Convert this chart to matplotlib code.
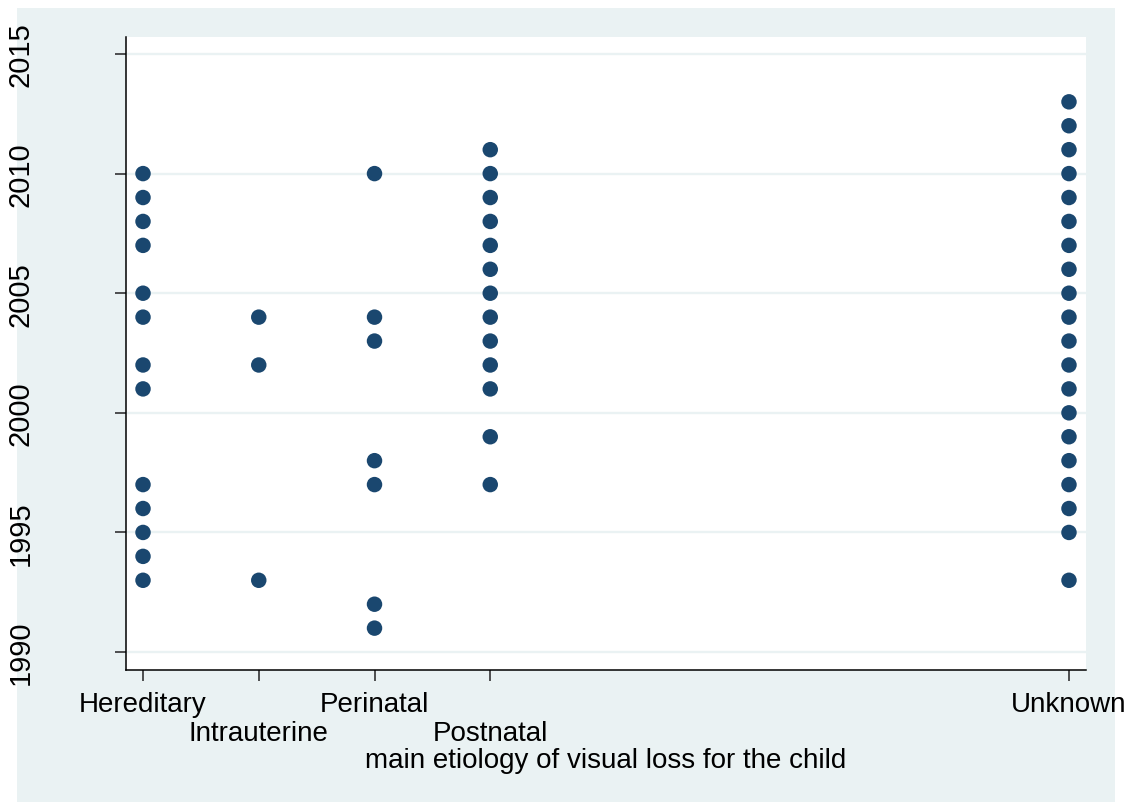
import matplotlib
matplotlib.use("Agg")
import matplotlib.pyplot as plt
import matplotlib.transforms as mtransforms
from matplotlib.patches import Rectangle

# etiology groups (coded values) and birth years
codes = [1, 2, 3, 4, 9]
tick_labels = ["Hereditary", "Intrauterine", "Perinatal", "Postnatal", "Unknown"]

hereditary = [2010, 2009, 2008, 2007, 2005, 2004, 2002, 2001,
              1997, 1996, 1995, 1994, 1993]
intrauterine = [2004, 2002, 1993]
perinatal = [2010, 2004, 2003, 1998, 1997, 1992, 1991]
postnatal = [2011, 2010, 2009, 2008, 2007, 2006, 2005, 2004, 2003,
             2002, 2001, 1999, 1997]
unknown = [2013, 2012, 2011, 2010, 2009, 2008, 2007, 2006, 2005, 2004,
           2003, 2002, 2001, 2000, 1999, 1998, 1997, 1996, 1995, 1993]

groups = [hereditary, intrauterine, perinatal, postnatal, unknown]
yticks = [1990, 1995, 2000, 2005, 2010, 2015]

C_MARK = "#1a476f"
C_BG = "#eaf2f3"

plt.rcParams["font.family"] = ["Liberation Sans", "DejaVu Sans"]

W, H = 1139, 804
fig = plt.figure(figsize=(W / 100, H / 100), dpi=100)
fig.patch.set_facecolor("white")
fig.patches.append(Rectangle((17 / W, 1 - 803 / H), (1115 - 17) / W, (803 - 9) / H,
                             transform=fig.transFigure, facecolor=C_BG,
                             edgecolor="none", zorder=-10))

ax = fig.add_axes([126 / W, 1 - 671 / H, (1086 - 126) / W, (671 - 38) / H])
ax.set_facecolor("white")

xs, ys = [], []
for c, g in zip(codes, groups):
    xs += [c] * len(g)
    ys += g
ax.scatter(xs, ys, s=124, color=C_MARK, edgecolors="none", zorder=3)

ax.set_xlim(0.853, 9.147)
ax.set_ylim(1989.25, 2015.71)
ax.set_xticks(codes)
ax.set_xticklabels(tick_labels, fontsize=20)
ax.set_yticks(yticks)
ax.set_yticklabels([str(v) for v in yticks], fontsize=21, rotation=90,
                   va="center")
ax.tick_params(axis="y", length=8, width=1.2, pad=58, color="#333333")
ax.tick_params(axis="x", length=8, width=1.2, pad=7, color="#333333")
ax.grid(axis="y", color=C_BG, linewidth=1.7)
ax.set_axisbelow(True)

# alternate (staggered) x tick labels, as in the Stata original
shift = mtransforms.ScaledTranslation(0, -0.29, fig.dpi_scale_trans)
for i, lab in enumerate(ax.get_xticklabels()):
    if i in (1, 3):
        lab.set_transform(lab.get_transform() + shift)

for side in ("top", "right"):
    ax.spines[side].set_visible(False)
for side in ("left", "bottom"):
    ax.spines[side].set_linewidth(1.1)

ax.set_xlabel("main etiology of visual loss for the child", fontsize=20)
ax.xaxis.set_label_coords(0.5, -0.1532)
ax.xaxis.label.set_va("baseline")

fig.savefig("out.png", dpi=100, facecolor=fig.get_facecolor())
